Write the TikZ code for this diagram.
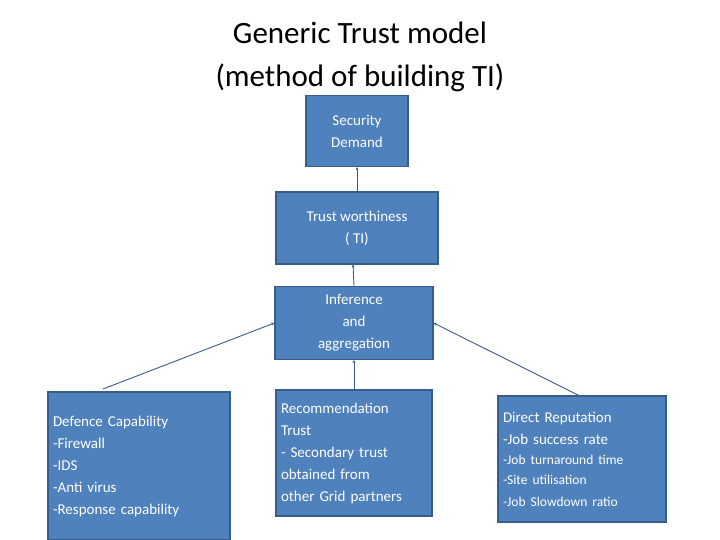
\documentclass[tikz,border=0pt]{standalone}
\usepackage{fontspec}
\setmainfont{Carlito}
\usetikzlibrary{positioning,arrows.meta}
\definecolor{boxfill}{HTML}{4F81BD}
\definecolor{boxline}{HTML}{385D8A}
\begin{document}
\begin{tikzpicture}[x=1pt, y=-1pt,
	box/.style={draw=boxline, line width=1.2pt, fill=boxfill, text=white, font=\fontsize{15}{22}\selectfont, inner sep=0pt},
	link/.style={draw=boxline, line width=0.9pt, -{Stealth[length=3pt,width=3pt]}}]
	\useasboundingbox (0,0) rectangle (720,540);
	\node[font=\fontsize{31}{43}\selectfont, align=center] (title) at (360,57) {Generic Trust model\\(method of building TI)};
	\node[box, minimum width=102pt, minimum height=71pt, align=center] (demand) at (357,131) {Security\\Demand};
	\node[box, minimum width=162pt, minimum height=72pt, align=center] (ti) at (357,228) {Trust worthiness\\( TI)};
	\node[box, minimum width=158pt, minimum height=73pt, align=center] (infer) at (354,323) {Inference\\and\\aggregation};
	\node[box, minimum width=182pt, minimum height=148pt, align=left, text width=172pt] (defence) at (139,466) {Defence Capability\\-Firewall\\-IDS\\-Anti virus\\-Response capability};
	\node[box, minimum width=156pt, minimum height=126pt, align=left, text width=146pt] (recomm) at (354,453) {Recommendation\\Trust\\- Secondary trust\\obtained from\\other Grid partners};
	\node[box, minimum width=168pt, minimum height=126pt, align=left, text width=158pt] (direct) at (582,459) {Direct Reputation\\-Job success rate\\{\fontsize{13.5}{20}\selectfont -Job turnaround time\\-Site utilisation\\-Job Slowdown ratio}};
	\coordinate (dtop) at (103,389);
	\coordinate (rtop) at (580,396);
	\draw[link] (ti.north) -- (demand.south);
	\draw[link] (infer.north) -- ([xshift=-4pt]ti.south);
	\draw[link] (recomm.north) -- (infer.south);
	\draw[link] (dtop) -- (infer.west);
	\draw[link] (rtop) -- (infer.east);
\end{tikzpicture}
\end{document}
